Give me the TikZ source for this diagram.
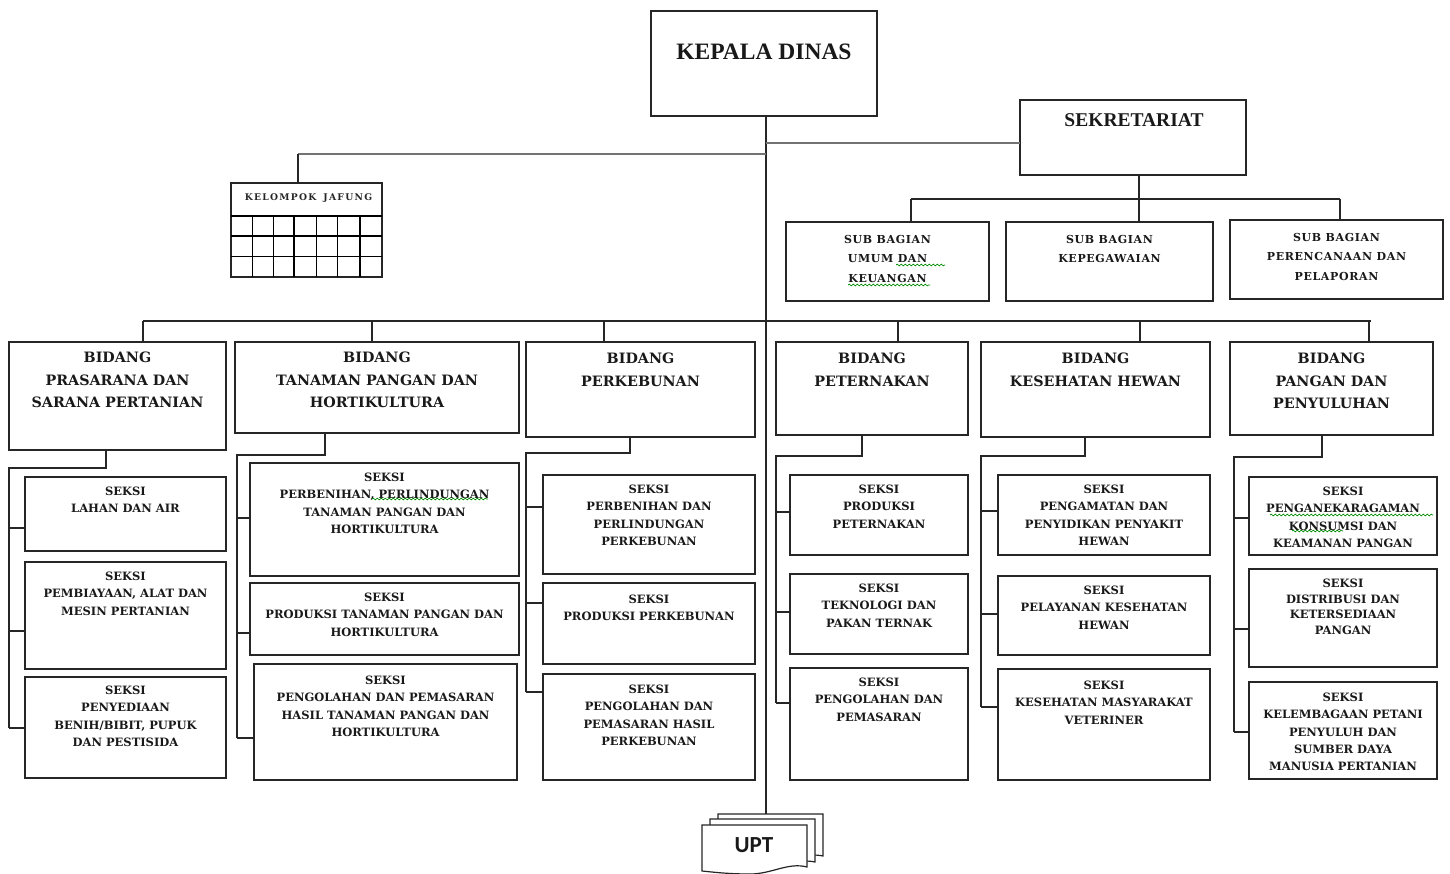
\documentclass[tikz,border=0pt]{standalone}
\usepackage{fontspec}
\setmainfont{DejaVu Serif}
\newfontfamily\titlefont{Liberation Serif}
\newfontfamily\uptfont{Carlito}
\newfontfamily\kjfont{DejaVu Serif}[LetterSpace=14]
\newfontfamily\subfont{DejaVu Serif}[LetterSpace=6]

\usetikzlibrary{decorations.pathmorphing}

\newcommand\bx[8]{%
  \node[box, minimum width={(#4)-(#2)}, minimum height={(#5)-(#3)}] (#1) at ({((#2)+(#4))/2},{((#3)+(#5))/2}) {};
  \node[#6] (#1t) at ({((#2)+(#4))/2},#7) {#8};}

\newcommand\grp[8]{%
  \coordinate (#1a) at (#3,#4); \coordinate (#1v) at (#5,#4);
  \coordinate (#1t1) at (#5,#6); \coordinate (#1t2) at (#5,#7); \coordinate (#1t3) at (#5,#8);
  \draw[conn] (#1a |- #2.south) -- (#1a) -- (#1v) -- (#1t3);
  \draw[conn] (#1t1) -- (#1t1 -| #1s1.west);
  \draw[conn] (#1t2) -- (#1t2 -| #1s2.west);
  \draw[conn] (#1t3) -- (#1t3 -| #1s3.west);}

\begin{document}
\begin{tikzpicture}[x=1pt,y=-1pt,
  box/.style={draw=black!85, line width=1.4pt, fill=white, inner sep=0pt, outer sep=0pt},
  conn/.style={draw=black!85, line width=1.4pt},
  gline/.style={draw=black!55, line width=2pt},
  seksi/.style={font=\bfseries\fontsize{11.5}{17.3}\selectfont, align=center, anchor=north, inner sep=0pt, yshift=4.2pt, text=black!90},
  seksib/.style={seksi, font=\bfseries\fontsize{11.5}{15.7}\selectfont},
  bid/.style={font=\bfseries\fontsize{14.3}{22.5}\selectfont, align=center, anchor=north, inner sep=0pt, yshift=5.2pt, text=black!90},
  sub/.style={font=\subfont\bfseries\fontsize{11}{19.5}\selectfont, align=center, anchor=north, inner sep=0pt, yshift=4pt, text=black!90},
  ttl/.style={inner sep=0pt, text=black!90},
  squig/.style={draw=green!55!black, line width=0.7pt, decorate, decoration={snake, amplitude=0.9pt, segment length=4pt}},
  sheet/.style={draw=black!85, line width=1.2pt, fill=white}
]
\useasboundingbox (0,0) rectangle (1450,874);

% top level
\bx{kd}{651}{11}{877}{116}{ttl}{52}{}
\node[ttl, font=\titlefont\bfseries\fontsize{23.5}{28}\selectfont] (kdt2) at (764,52) {KEPALA DINAS};
\bx{sek}{1020}{100}{1246}{175}{ttl}{120}{}
\node[ttl, font=\titlefont\bfseries\fontsize{19.5}{24}\selectfont] (sekt2) at (1134,120) {SEKRETARIAT};

% UPT stacked sheets
\draw[sheet] (718,814) -- (823,814) -- (823,856) .. controls (805,852) and (790,862) .. (770,861) -- (718,858) -- cycle;
\draw[sheet] (710,819) -- (815,819) -- (815,862) .. controls (797,858) and (782,868) .. (762,867) -- (710,864) -- cycle;
\draw[sheet] (702,825) -- (807,825) -- (807,867) .. controls (788,862) and (772,874) .. (750,874) .. controls (728,874) and (712,872) .. (702,871) -- cycle;
\node[ttl, font=\uptfont\bfseries\fontsize{23}{28}\selectfont] (upt) at (754,845) {UPT};
\coordinate (uptTop) at (766,814);

% trunk
\draw[conn] (kd.south -| uptTop) -- (uptTop);
\coordinate (j1) at (766,143);
\coordinate (j2) at (766,154);
\coordinate (kjd) at (298,154);
\draw[gline] (j1) -- (j1 -| sek.west);
\draw[gline, line width=2.6pt] (j2) -- (kjd);

% kelompok jafung
\node[box, minimum width=151pt, minimum height=94pt] (kj) at (306.5,230) {};
\draw[conn, line width=1.2pt] (kjd) -- (kjd |- kj.north);
\node[inner sep=0pt, font=\kjfont\bfseries\fontsize{9.2}{10}\selectfont, text=black!85] (kjt) at (308.5,198) {KELOMPOK\hspace{7pt}JAFUNG};
\foreach \yy in {216,236,256.5} \draw[line width=1.2pt] (231,\yy) -- (382,\yy);
\foreach \xx in {252.3,273.3,294,316.7,337.3,360} \draw[line width=1.2pt] (\xx,216) -- (\xx,277);

% sub bagian
\bx{sb1}{786}{222}{989}{301}{sub}{239}{SUB BAGIAN\\UMUM DAN\\KEUANGAN}
\bx{sb2}{1006}{222}{1213}{301}{sub}{239}{SUB BAGIAN\\KEPEGAWAIAN}
\bx{sb3}{1230}{220}{1443}{299}{sub}{237}{SUB BAGIAN\\PERENCANAAN DAN\\PELAPORAN}
\coordinate (sbL) at (911,199); \coordinate (sbM) at (1139,199); \coordinate (sbR) at (1340,199);
\draw[conn] (sek.south -| sbM) -- (sbM);
\draw[conn] (sbL) -- (sbR);
\draw[conn] (sbL) -- (sbL |- sb1.north);
\draw[conn] (sbM) -- (sbM |- sb2.north);
\draw[conn] (sbR) -- (sbR |- sb3.north);

% bidang
\bx{b1}{9}{342}{226}{450}{bid}{357}{BIDANG\\PRASARANA DAN\\SARANA PERTANIAN}
\bx{b2}{235}{342}{519}{433}{bid}{357}{BIDANG\\TANAMAN PANGAN DAN\\HORTIKULTURA}
\bx{b3}{526}{342}{755}{437}{bid}{358}{BIDANG\\PERKEBUNAN}
\bx{b4}{776}{342}{968}{435}{bid}{358}{BIDANG\\PETERNAKAN}
\bx{b5}{981}{342}{1210}{437}{bid}{358}{BIDANG\\KESEHATAN HEWAN}
\bx{b6}{1230}{342}{1433}{435}{bid}{358}{BIDANG\\PANGAN DAN\\PENYULUHAN}
\coordinate (d1) at (143,321); \coordinate (d2) at (372,321); \coordinate (d3) at (604,321);
\coordinate (d4) at (898,321); \coordinate (d5) at (1140,321); \coordinate (d6) at (1369,321);
\coordinate (dR) at (1371,321);
\draw[conn] (d1) -- (dR);
\draw[conn] (d1) -- (d1 |- b1.north);
\draw[conn] (d2) -- (d2 |- b2.north);
\draw[conn] (d3) -- (d3 |- b3.north);
\draw[conn] (d4) -- (d4 |- b4.north);
\draw[conn] (d5) -- (d5 |- b5.north);
\draw[conn] (d6) -- (d6 |- b6.north);

% seksi group 1
\bx{g1s1}{25}{477}{226}{551}{seksi}{491}{SEKSI\\LAHAN DAN AIR}
\bx{g1s2}{25}{562}{226}{669}{seksi}{576}{SEKSI\\PEMBIAYAAN, ALAT DAN\\MESIN PERTANIAN}
\bx{g1s3}{25}{677}{226}{778}{seksi}{690}{SEKSI\\PENYEDIAAN\\BENIH/BIBIT, PUPUK\\DAN PESTISIDA}
\grp{g1}{b1}{106}{468}{9}{528}{631}{728}
% group 2
\bx{g2s1}{250}{463}{519}{576}{seksi}{477}{SEKSI\\PERBENIHAN, PERLINDUNGAN\\TANAMAN PANGAN DAN\\HORTIKULTURA}
\bx{g2s2}{250}{583}{519}{655}{seksi}{597}{SEKSI\\PRODUKSI TANAMAN PANGAN DAN\\HORTIKULTURA}
\bx{g2s3}{254}{664}{517}{780}{seksi}{680}{SEKSI\\PENGOLAHAN DAN PEMASARAN\\HASIL TANAMAN PANGAN DAN\\HORTIKULTURA}
\grp{g2}{b2}{325}{455}{237}{518}{633}{738}
% group 3
\bx{g3s1}{543}{475}{755}{574}{seksi}{489}{SEKSI\\PERBENIHAN DAN\\PERLINDUNGAN\\PERKEBUNAN}
\bx{g3s2}{543}{583}{755}{664}{seksi}{599}{SEKSI\\PRODUKSI PERKEBUNAN}
\bx{g3s3}{543}{674}{755}{780}{seksi}{689}{SEKSI\\PENGOLAHAN DAN\\PEMASARAN HASIL\\PERKEBUNAN}
\grp{g3}{b3}{630}{453}{526}{507}{603}{692}
% group 4
\bx{g4s1}{790}{475}{968}{555}{seksi}{489}{SEKSI\\PRODUKSI\\PETERNAKAN}
\bx{g4s2}{790}{574}{968}{654}{seksi}{588}{SEKSI\\TEKNOLOGI DAN\\PAKAN TERNAK}
\bx{g4s3}{790}{668}{968}{780}{seksi}{682}{SEKSI\\PENGOLAHAN DAN\\PEMASARAN}
\grp{g4}{b4}{862}{456}{776}{512}{612}{703}
% group 5
\bx{g5s1}{998}{475}{1210}{555}{seksi}{489}{SEKSI\\PENGAMATAN DAN\\PENYIDIKAN PENYAKIT\\HEWAN}
\bx{g5s2}{998}{576}{1210}{655}{seksi}{590}{SEKSI\\PELAYANAN KESEHATAN\\HEWAN}
\bx{g5s3}{998}{669}{1210}{780}{seksi}{685}{SEKSI\\KESEHATAN MASYARAKAT\\VETERINER}
\grp{g5}{b5}{1085}{456}{981}{511}{614}{707}
% group 6
\bx{g6s1}{1249}{477}{1437}{555}{seksi}{491}{SEKSI\\PENGANEKARAGAMAN\\KONSUMSI DAN\\KEAMANAN PANGAN}
\bx{g6s2}{1249}{569}{1437}{667}{seksib}{583}{SEKSI\\DISTRIBUSI DAN\\KETERSEDIAAN\\PANGAN}
\bx{g6s3}{1249}{682}{1437}{779}{seksi}{697}{SEKSI\\KELEMBAGAAN PETANI\\PENYULUH DAN\\SUMBER DAYA\\MANUSIA PERTANIAN}
\grp{g6}{b6}{1322}{457}{1234}{518}{629}{732}

% spell-check squiggles
\draw[squig] (372,499) -- (488,499);
\draw[squig] (896,265) -- (945,265);
\draw[squig] (848,285) -- (930,285);
\draw[squig] (1270,515) -- (1433,515);
\draw[squig] (1292,531) -- (1343,531);
\end{tikzpicture}
\end{document}
